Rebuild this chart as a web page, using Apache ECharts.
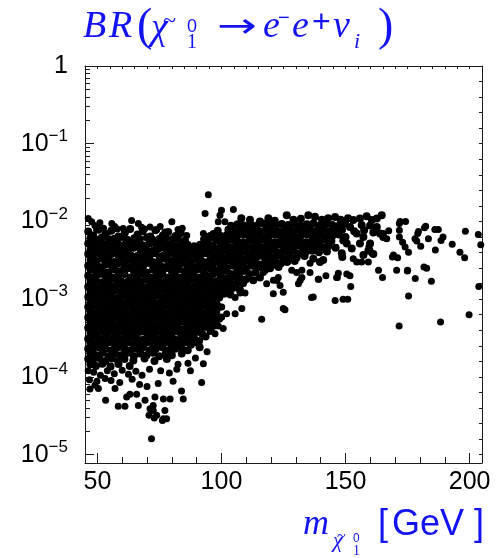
<!DOCTYPE html>
<html><head><meta charset="utf-8">
<script src="https://cdn.jsdelivr.net/npm/echarts@6/dist/echarts.min.js"></script>
<style>html,body{margin:0;padding:0;background:#fff}#c{width:497px;height:558px}</style>
</head><body><div id="c"></div>
<script>
// ---------- tick labels ----------
const xTickLabels = [50, 100, 150, 200];
const yTickLabels = [1e-5, 1e-4, 1e-3, 1e-2, 1e-1, 1];
const yMinorMultipliers = [2, 3, 4, 5, 6, 7, 8, 9];

// ---------- data: [neutralino mass (GeV), BR] ----------
const blobFringeTop = [[46.3,1.09e-2],[47.7,9.9e-3],[49.0,8.9e-3],[49.7,7.8e-3],[52.5,8.2e-3],[55.8,9.4e-3],[58.0,8.0e-3],[60.4,8.1e-3],[63.8,1.03e-2],[66.5,9.4e-3],[69.0,8.0e-3],[71.2,8.5e-3],[73.9,7.8e-3],[77.2,7.3e-3],[80.0,9.9e-3],[82.5,7.9e-3],[86.0,6.6e-3],[92.7,7.0e-3],[93.4,1.27e-2],[94.7,2.2e-2],[95.4,6.6e-3],[98.7,9.9e-3],[99.4,1.2e-2],[100.0,1.39e-2],[101.4,9.9e-3],[104.8,1.42e-2],[51.0,9.6e-3],[57.0,8.6e-3],[67.8,8.4e-3],[75.3,8.6e-3],[84.2,8.2e-3]];

const blobUpper = [
[46.3,7.4e-3],[48.3,6.6e-3],[50.5,7.8e-3],[53.4,6.9e-3],[55.6,7.6e-3],[58.5,6.4e-3],[61.1,7.2e-3],[63.2,8.0e-3],[66.2,6.8e-3],[68.3,7.5e-3],[71.3,6.4e-3],[73.4,7.7e-3],[76.4,6.6e-3],[78.5,7.3e-3],[81.5,6.5e-3],[83.6,7.1e-3],[93.8,6.3e-3],[96.8,6.9e-3],
[47.2,6.1e-3],[49.6,5.8e-3],[51.8,6.2e-3],[54.7,5.9e-3],[56.9,6.0e-3],[59.8,6.3e-3],[62.0,5.8e-3],[64.9,6.1e-3],[67.1,5.9e-3],[70.0,6.2e-3],[72.2,5.8e-3],[75.1,6.0e-3],[77.3,6.2e-3],[80.2,5.9e-3],[82.4,6.1e-3],[85.3,5.7e-3],[93.0,5.9e-3],[95.1,6.1e-3],[97.9,5.8e-3],
[46.3,5.2e-3],[48.0,5.0e-3],[50.8,5.3e-3],[53.1,5.1e-3],[55.9,4.9e-3],[58.2,5.2e-3],[61.0,5.0e-3],[63.5,5.3e-3],[65.9,5.1e-3],[68.6,4.9e-3],[71.0,5.2e-3],[73.7,5.0e-3],[76.1,5.3e-3],[78.8,5.1e-3],[81.2,4.9e-3],[83.9,5.2e-3],[86.3,5.0e-3],[89.0,4.8e-3],[91.4,5.0e-3],[94.1,5.2e-3],[96.5,4.9e-3],
[47.2,4.3e-3],[49.3,4.5e-3],[52.1,4.4e-3],[54.4,4.2e-3],[57.2,4.5e-3],[59.5,4.3e-3],[62.3,4.4e-3],[64.6,4.6e-3],[67.4,4.3e-3],[69.7,4.4e-3],[72.5,4.2e-3],[74.8,4.5e-3],[77.6,4.4e-3],[79.9,4.2e-3],[82.7,4.5e-3],[85.0,4.3e-3],[87.8,4.4e-3],[90.1,4.2e-3],[92.9,4.5e-3],[95.2,4.3e-3],[98.0,4.4e-3],
[46.3,3.8e-3],[48.2,3.7e-3],[50.6,3.9e-3],[53.3,3.6e-3],[55.7,3.8e-3],[58.4,3.7e-3],[60.8,3.9e-3],[63.3,3.7e-3],[66.1,3.6e-3],[68.4,3.8e-3],[71.2,3.7e-3],[73.5,3.9e-3],[76.3,3.6e-3],[78.6,3.8e-3],[81.4,3.7e-3],[83.7,3.9e-3],[86.5,3.6e-3],[88.8,3.8e-3],[91.6,3.7e-3],[93.9,3.9e-3],[96.7,3.6e-3],
[47.2,3.2e-3],[49.5,3.1e-3],[51.9,3.3e-3],[54.6,3.2e-3],[57.0,3.0e-3],[59.7,3.3e-3],[62.1,3.2e-3],[64.8,3.1e-3],[67.2,3.3e-3],[69.9,3.2e-3],[72.3,3.0e-3],[75.0,3.2e-3],[77.4,3.3e-3],[80.1,3.1e-3],[82.5,3.2e-3],[85.2,3.3e-3],[87.6,3.1e-3],[90.3,3.2e-3],[92.7,3.0e-3],[95.4,3.2e-3],[97.8,3.3e-3],
[46.3,2.7e-3],[48.1,2.8e-3],[50.7,2.6e-3],[53.2,2.8e-3],[55.8,2.7e-3],[58.3,2.9e-3],[60.9,2.7e-3],[63.4,2.6e-3],[66.0,2.8e-3],[68.5,2.7e-3],[71.1,2.9e-3],[73.6,2.7e-3],[76.2,2.6e-3],[78.7,2.8e-3],[81.3,2.7e-3],[83.8,2.9e-3],[86.4,2.7e-3],[88.9,2.6e-3],[91.5,2.8e-3],[94.0,2.7e-3],[96.6,2.8e-3],
[47.2,2.4e-3],[49.4,2.3e-3],[52.0,2.4e-3],[54.5,2.2e-3],[57.1,2.4e-3],[59.6,2.3e-3],[62.2,2.5e-3],[64.7,2.3e-3],[67.3,2.4e-3],[69.8,2.2e-3],[72.4,2.4e-3],[74.9,2.3e-3],[77.5,2.5e-3],[80.0,2.3e-3],[82.6,2.4e-3],[85.1,2.3e-3],[87.7,2.2e-3],[90.2,2.4e-3],[92.8,2.3e-3],[95.3,2.5e-3],[97.9,2.3e-3],
[46.3,2.0e-3],[48.1,1.9e-3],[50.7,2.1e-3],[53.2,2.0e-3],[55.8,1.9e-3],[58.3,2.0e-3],[60.9,2.1e-3],[63.4,1.9e-3],[66.0,2.0e-3],[68.5,2.1e-3],[71.1,1.9e-3],[73.6,2.0e-3],[76.2,2.1e-3],[78.7,1.9e-3],[81.3,2.0e-3],[83.8,1.9e-3],[86.4,2.1e-3],[88.9,2.0e-3],[91.5,1.9e-3],[94.0,2.0e-3],[96.6,2.1e-3]
];

const blobMiddle = [
[47.2,1.7e-3],[49.4,1.75e-3],[52.0,1.65e-3],[54.5,1.72e-3],[57.1,1.8e-3],[59.6,1.7e-3],[62.2,1.68e-3],[64.7,1.75e-3],[67.3,1.7e-3],[69.8,1.78e-3],[72.4,1.66e-3],[74.9,1.72e-3],[77.5,1.7e-3],[80.0,1.76e-3],[82.6,1.68e-3],[85.1,1.72e-3],[87.7,1.8e-3],[90.2,1.7e-3],[92.8,1.65e-3],[95.3,1.74e-3],[97.9,1.7e-3],[100.4,1.68e-3],
[46.3,1.45e-3],[48.1,1.5e-3],[50.7,1.42e-3],[53.2,1.48e-3],[55.8,1.46e-3],[58.3,1.52e-3],[60.9,1.44e-3],[63.4,1.47e-3],[66.0,1.5e-3],[68.5,1.43e-3],[71.1,1.48e-3],[73.6,1.46e-3],[76.2,1.51e-3],[78.7,1.45e-3],[81.3,1.47e-3],[83.8,1.42e-3],[86.4,1.49e-3],[88.9,1.46e-3],[91.5,1.5e-3],[94.0,1.44e-3],[96.6,1.47e-3],[99.1,1.45e-3],
[47.2,1.25e-3],[49.4,1.28e-3],[52.0,1.22e-3],[54.5,1.27e-3],[57.1,1.3e-3],[59.6,1.24e-3],[62.2,1.26e-3],[64.7,1.29e-3],[67.3,1.23e-3],[69.8,1.27e-3],[72.4,1.25e-3],[74.9,1.3e-3],[77.5,1.24e-3],[80.0,1.26e-3],[82.6,1.28e-3],[85.1,1.22e-3],[87.7,1.27e-3],[90.2,1.25e-3],[92.8,1.29e-3],[95.3,1.24e-3],[97.9,1.26e-3],[100.4,1.23e-3],
[46.3,1.07e-3],[48.1,1.1e-3],[50.7,1.05e-3],[53.2,1.09e-3],[55.8,1.08e-3],[58.3,1.04e-3],[60.9,1.1e-3],[63.4,1.07e-3],[66.0,1.09e-3],[68.5,1.05e-3],[71.1,1.08e-3],[73.6,1.11e-3],[76.2,1.06e-3],[78.7,1.08e-3],[81.3,1.1e-3],[83.8,1.05e-3],[86.4,1.07e-3],[88.9,1.09e-3],[91.5,1.06e-3],[94.0,1.08e-3],[96.6,1.1e-3],[99.1,1.05e-3],
[47.2,9.2e-4],[49.4,9.0e-4],[52.0,9.4e-4],[54.5,9.1e-4],[57.1,9.3e-4],[59.6,8.9e-4],[62.2,9.2e-4],[64.7,9.4e-4],[67.3,9.0e-4],[69.8,9.2e-4],[72.4,9.3e-4],[74.9,8.9e-4],[77.5,9.1e-4],[80.0,9.4e-4],[82.6,9.0e-4],[85.1,9.2e-4],[87.7,9.3e-4],[90.2,9.0e-4],[92.8,9.2e-4],[95.3,9.4e-4],[97.9,9.1e-4],
[46.3,7.9e-4],[48.1,8.1e-4],[50.7,7.7e-4],[53.2,7.9e-4],[55.8,8.0e-4],[58.3,7.8e-4],[60.9,7.9e-4],[63.4,8.1e-4],[66.0,7.7e-4],[68.5,7.9e-4],[71.1,8.0e-4],[73.6,7.8e-4],[76.2,7.9e-4],[78.7,8.1e-4],[81.3,7.7e-4],[83.8,7.9e-4],[86.4,8.0e-4],[88.9,7.8e-4],[91.5,7.9e-4],[94.0,8.1e-4],[96.6,7.8e-4],[99.0,7.9e-4],
[47.2,6.8e-4],[49.4,6.6e-4],[52.0,6.9e-4],[54.5,6.7e-4],[57.1,6.8e-4],[59.6,7.0e-4],[62.2,6.6e-4],[64.7,6.8e-4],[67.3,6.9e-4],[69.8,6.7e-4],[72.4,6.8e-4],[74.9,7.0e-4],[77.5,6.6e-4],[80.0,6.8e-4],[82.6,6.9e-4],[85.1,6.7e-4],[87.7,6.8e-4],[90.2,7.0e-4],[92.8,6.6e-4],[95.3,6.8e-4],[97.9,6.9e-4],
[46.3,5.8e-4],[48.1,5.7e-4],[50.7,5.9e-4],[53.2,5.8e-4],[55.8,5.6e-4],[58.3,5.9e-4],[60.9,5.8e-4],[63.4,5.7e-4],[66.0,6.0e-4],[68.5,5.8e-4],[71.1,5.7e-4],[73.6,5.9e-4],[76.2,5.8e-4],[78.7,5.6e-4],[81.3,5.9e-4],[83.8,5.8e-4],[86.4,5.7e-4],[88.9,5.9e-4],[91.5,5.8e-4],[94.0,5.7e-4],[96.6,5.9e-4],[99.1,5.6e-4],
[47.2,5.0e-4],[49.4,4.9e-4],[52.0,5.1e-4],[54.5,5.0e-4],[57.1,4.8e-4],[59.6,5.1e-4],[62.2,5.0e-4],[64.7,4.9e-4],[67.3,5.1e-4],[69.8,5.0e-4],[72.4,4.8e-4],[74.9,5.0e-4],[77.5,5.1e-4],[80.0,4.9e-4],[82.6,5.0e-4],[85.1,5.1e-4],[87.7,4.9e-4],[90.2,5.0e-4],[92.8,4.8e-4],[95.3,5.0e-4],[97.4,5.3e-4]
];

const blobLower = [
[46.3,4.3e-4],[48.1,4.2e-4],[50.7,4.4e-4],[53.2,4.3e-4],[55.8,4.2e-4],[58.3,4.4e-4],[60.9,4.3e-4],[63.4,4.1e-4],[66.0,4.3e-4],[68.5,4.4e-4],[71.1,4.2e-4],[73.6,4.3e-4],[76.2,4.4e-4],[78.7,4.2e-4],[81.3,4.3e-4],[83.8,4.1e-4],[86.4,4.3e-4],[88.9,4.4e-4],[91.5,4.2e-4],[94.0,4.4e-4],[97.0,4.6e-4],
[47.2,3.7e-4],[49.4,3.6e-4],[52.0,3.8e-4],[54.5,3.7e-4],[57.1,3.6e-4],[59.6,3.8e-4],[62.2,3.7e-4],[64.7,3.6e-4],[67.3,3.8e-4],[69.8,3.7e-4],[72.4,3.6e-4],[74.9,3.8e-4],[77.5,3.7e-4],[80.0,3.6e-4],[82.6,3.8e-4],[85.1,3.7e-4],[87.7,3.6e-4],[90.2,3.8e-4],[92.2,3.6e-4],[95.6,3.9e-4],
[46.3,3.1e-4],[48.1,3.2e-4],[50.7,3.1e-4],[53.2,3.2e-4],[55.8,3.0e-4],[58.3,3.2e-4],[60.9,3.1e-4],[63.4,3.2e-4],[66.0,3.1e-4],[68.5,3.0e-4],[71.1,3.2e-4],[73.6,3.1e-4],[76.2,3.2e-4],[78.7,3.1e-4],[81.3,3.0e-4],[83.8,3.2e-4],[86.4,3.1e-4],[88.9,3.2e-4],[91.0,2.9e-4],[93.6,3.3e-4],
[47.2,2.7e-4],[49.4,2.6e-4],[52.0,2.7e-4],[54.5,2.8e-4],[57.1,2.6e-4],[59.6,2.7e-4],[62.2,2.8e-4],[64.7,2.6e-4],[67.3,2.7e-4],[69.8,2.8e-4],[72.4,2.6e-4],[74.9,2.7e-4],[77.5,2.8e-4],[80.0,2.6e-4],[82.6,2.7e-4],[85.1,2.8e-4],[87.7,2.6e-4],[89.6,2.8e-4],
[46.3,2.3e-4],[48.1,2.2e-4],[50.7,2.4e-4],[53.2,2.3e-4],[55.8,2.2e-4],[58.3,2.4e-4],[60.9,2.3e-4],[63.4,2.2e-4],[66.0,2.3e-4],[68.5,2.4e-4],[71.1,2.2e-4],[73.6,2.3e-4],[76.2,2.4e-4],[78.7,2.2e-4],[81.3,2.3e-4],[83.8,2.4e-4],[86.4,2.2e-4],[91.2,2.4e-4],
[47.2,2.0e-4],[49.4,1.9e-4],[52.0,2.05e-4],[54.5,1.85e-4],[57.1,2.0e-4],[59.6,1.9e-4],[62.2,2.05e-4],[64.7,1.85e-4],[67.3,2.0e-4],[69.8,1.9e-4],[72.4,2.05e-4],[74.9,1.85e-4],[77.5,2.0e-4],[80.0,1.9e-4],[84.0,2.0e-4],
[46.3,1.7e-4],[48.1,1.62e-4],[50.7,1.75e-4],[53.2,1.6e-4],[55.8,1.72e-4],[58.3,1.6e-4],[60.9,1.7e-4],[64.5,1.62e-4],[69.0,1.72e-4],[73.0,1.6e-4],[78.0,1.7e-4],
[47.2,1.45e-4],[49.4,1.38e-4],[52.0,1.48e-4],[55.3,1.36e-4],[58.5,1.47e-4],[63.0,1.38e-4]
];

const blobFringeBottom = [
[46.3,1.2e-4],[48.5,1.15e-4],[51.2,1.05e-4],[54.0,1.2e-4],[56.8,1.1e-4],[60.0,1.22e-4],[62.5,1.08e-4],[65.5,1.18e-4],[68.0,1.05e-4],[71.0,1.25e-4],[75.5,1.2e-4],[79.0,1.12e-4],[82.0,1.25e-4],[86.5,1.5e-4],[89.5,1.75e-4],
[46.8,9.2e-5],[49.8,8.8e-5],[55.5,9.0e-5],[59.0,8.5e-5],[64.0,9.3e-5],[67.0,8.0e-5],[70.0,7.5e-5],[74.5,8.2e-5],[80.5,8.8e-5],
[47.0,7.0e-5],[49.0,7.8e-5],[50.4,7.1e-5],[53.1,9.5e-5],[53.3,5.0e-5],[57.1,7.1e-5],[58.4,4.2e-5],[61.1,4.2e-5],[61.8,5.5e-5],[63.1,6.0e-5],[65.8,6.0e-5],[66.5,4.3e-5],[69.2,5.0e-5],[71.2,3.9e-5],[72.5,4.3e-5],[73.2,5.5e-5],[73.9,3.2e-5],[72.5,3.7e-5],[76.6,5.2e-5],[76.6,2.9e-5],[77.9,2.9e-5],[77.2,3.7e-5],[79.3,5.2e-5],[83.9,6.6e-5],[84.6,5.2e-5],[71.8,1.6e-5],[92.0,8.5e-5],[92.7,1.48e-4],[70.8,3.2e-5],[72.9,2.95e-5],[76.2,2.75e-5],[87.5,1.2e-4],[82.5,1.45e-4],[94.2,2.1e-4]
];

const bandUpper = [
[108.0,1.1e-2],[111.5,1.05e-2],[115.5,1.0e-2],[118.9,1.1e-2],[121.5,1.02e-2],[126.3,1.2e-2],[129.0,1.05e-2],[132.0,1.08e-2],[135.0,1.2e-2],[137.7,1.15e-2],[140.5,1.05e-2],[143.0,1.1e-2],[145.8,1.14e-2],[148.0,1.05e-2],[151.0,1.1e-2],[153.1,1.04e-2],[155.8,1.09e-2],[158.5,1.17e-2],[160.6,1.04e-2],[162.6,1.09e-2],[164.6,1.2e-2],
[103.9,8.8e-3],[106.5,9.2e-3],[109.0,8.9e-3],[111.6,9.3e-3],[114.1,8.8e-3],[116.7,9.4e-3],[119.2,9.0e-3],[121.8,8.7e-3],[124.3,9.3e-3],[126.9,9.0e-3],[129.4,9.4e-3],[132.0,8.8e-3],[134.5,9.2e-3],[137.1,9.5e-3],[139.6,8.9e-3],[142.2,9.3e-3],[144.7,9.0e-3],[147.3,8.8e-3],[149.8,9.4e-3],[151.8,8.5e-3],[156.5,9.0e-3],[159.9,8.9e-3],[162.6,8.5e-3],
[98.5,7.6e-3],[102.8,7.8e-3],[105.2,7.5e-3],[107.8,7.9e-3],[110.3,7.6e-3],[112.9,7.8e-3],[115.4,7.5e-3],[118.0,7.9e-3],[120.5,7.7e-3],[123.1,7.4e-3],[125.6,7.8e-3],[128.2,7.6e-3],[130.7,7.9e-3],[133.3,7.5e-3],[135.8,7.8e-3],[138.4,7.6e-3],[140.9,7.9e-3],[143.5,7.5e-3],[146.0,7.7e-3],[148.6,7.8e-3],[153.5,7.5e-3],[157.5,7.7e-3],[161.2,7.2e-3],[163.9,7.0e-3],
[99.7,6.5e-3],[102.2,6.7e-3],[104.0,6.4e-3],[106.5,6.6e-3],[109.1,6.8e-3],[111.6,6.5e-3],[114.2,6.7e-3],[116.7,6.4e-3],[119.3,6.6e-3],[121.8,6.8e-3],[124.4,6.5e-3],[126.9,6.7e-3],[129.5,6.4e-3],[132.0,6.6e-3],[134.6,6.8e-3],[137.1,6.5e-3],[139.7,6.7e-3],[142.2,6.4e-3],[144.8,6.6e-3],[147.3,6.8e-3],[150.0,6.3e-3],[154.5,7.0e-3],[157.2,6.3e-3],[165.2,6.3e-3],
[98.5,5.7e-3],[101.0,5.5e-3],[103.5,5.8e-3],[106.1,5.6e-3],[108.6,5.4e-3],[111.2,5.7e-3],[113.7,5.5e-3],[116.3,5.8e-3],[118.8,5.6e-3],[121.4,5.4e-3],[123.9,5.7e-3],[126.5,5.5e-3],[129.0,5.8e-3],[131.6,5.6e-3],[134.1,5.4e-3],[136.7,5.7e-3],[139.2,5.5e-3],[141.8,5.8e-3],[144.3,5.6e-3],[149.1,5.7e-3],[155.8,5.2e-3],[159.9,5.2e-3],
[99.7,4.8e-3],[102.2,4.9e-3],[104.8,4.7e-3],[107.3,4.9e-3],[109.9,4.8e-3],[112.4,4.6e-3],[115.0,4.9e-3],[117.5,4.7e-3],[120.1,4.8e-3],[122.6,5.0e-3],[125.2,4.7e-3],[127.7,4.8e-3],[130.3,4.9e-3],[132.8,4.6e-3],[135.4,4.8e-3],[137.9,4.9e-3],[140.5,4.7e-3],[143.0,4.8e-3],[146.0,4.6e-3],[150.5,5.2e-3],[152.5,4.5e-3],
[98.5,4.1e-3],[101.0,4.2e-3],[103.6,4.0e-3],[106.1,4.2e-3],[108.7,4.1e-3],[111.2,3.9e-3],[113.8,4.2e-3],[116.3,4.0e-3],[118.9,4.1e-3],[121.4,4.3e-3],[124.0,4.0e-3],[126.5,4.1e-3],[129.1,4.2e-3],[131.6,3.9e-3],[134.2,4.1e-3],[136.7,4.2e-3],[139.3,4.0e-3],[142.5,4.1e-3],[148.5,3.9e-3],[159.2,4.2e-3],
[99.7,3.5e-3],[102.2,3.4e-3],[104.8,3.6e-3],[107.3,3.5e-3],[109.9,3.3e-3],[112.4,3.5e-3],[115.0,3.6e-3],[117.5,3.4e-3],[120.1,3.5e-3],[122.6,3.6e-3],[125.2,3.3e-3],[127.7,3.5e-3],[130.3,3.4e-3],[133.5,3.6e-3],[137.0,3.3e-3],[148.7,3.5e-3],[157.2,3.7e-3],[161.2,3.8e-3]
];

const bandLower = [
[98.5,3.0e-3],[101.0,2.9e-3],[103.6,3.1e-3],[106.1,3.0e-3],[108.7,2.9e-3],[111.2,3.1e-3],[113.8,3.0e-3],[116.3,2.8e-3],[118.9,3.0e-3],[121.4,3.1e-3],[124.0,2.9e-3],[126.5,3.0e-3],[129.5,3.1e-3],[139.7,3.0e-3],[141.0,3.2e-3],
[99.7,2.6e-3],[102.2,2.5e-3],[104.8,2.7e-3],[107.3,2.6e-3],[109.9,2.5e-3],[112.4,2.7e-3],[115.0,2.6e-3],[117.5,2.5e-3],[120.1,2.7e-3],[123.0,2.6e-3],
[98.5,2.2e-3],[101.0,2.3e-3],[103.6,2.1e-3],[106.1,2.2e-3],[108.7,2.3e-3],[111.2,2.1e-3],[113.8,2.2e-3],[117.5,2.35e-3],[119.6,2.5e-3],
[99.7,1.9e-3],[102.2,1.85e-3],[104.8,1.95e-3],[107.3,1.9e-3],[109.9,1.8e-3],[112.8,1.75e-3],[115.5,1.9e-3],
[98.5,1.6e-3],[101.0,1.55e-3],[103.6,1.62e-3],[106.1,1.58e-3],[108.7,1.6e-3],
[99.7,1.37e-3],[102.2,1.35e-3],[104.8,1.4e-3],[107.5,1.3e-3],
[101.0,1.17e-3],[103.6,1.15e-3]
];

const bandSparse = [
[135.7,2.9e-3],[154.5,3.0e-3],[128.3,2.35e-3],[130.3,2.2e-3],[132.4,2.35e-3],[135.7,2.2e-3],[116.9,2.2e-3],[122.3,1.74e-3],[122.9,1.9e-3],[131.0,1.58e-3],[131.7,1.74e-3],[132.4,1.9e-3],[139.0,1.8e-3],
[118.2,1.58e-3],[120.9,1.75e-3],[123.6,1.5e-3],[105.5,1.05e-3],[107.5,1.2e-3],[109.5,1.2e-3],[120.9,1.17e-3],[124.9,1.23e-3],
[98.7,4.5e-4],[97.4,3.6e-4],[100.7,4.2e-4],[100.1,5.9e-4],[102.1,6.5e-4],[100.1,7.9e-4],[105.5,6.5e-4],[108.2,7.6e-4],[116.2,5.5e-4],[125.6,7.3e-4],[124.9,7.6e-4],[136.3,1.05e-3],[137.0,1.07e-3],[145.8,9.6e-4],[149.0,1.0e-3],[150.9,1.0e-3],[152.1,1.46e-3],[146.4,1.9e-3],[147.1,2.15e-3],[150.5,2.1e-3],[151.8,2.0e-3],[142.1,2.0e-3],[139.2,1.8e-3],[146.7,1.9e-3],[153.1,3.3e-3],[156.5,3.0e-3],[159.2,3.0e-3],[160.7,3.9e-3],[159.8,4.3e-3],[159.4,4.7e-3]
];

const tailPoints = [
[163.3,2.35e-3],[164.9,1.9e-3],[167.4,7.6e-3],[165.2,7.0e-3],[166.6,6.0e-3],[168.9,3.5e-3],[169.3,3.7e-3],[171.0,3.4e-3],[170.6,2.35e-3],[175.0,2.35e-3],[171.6,4.5e-4],[175.4,1.1e-3],[174.9,2.3e-3],[171.7,9.4e-3],[174.2,1.0e-2],[171.7,7.7e-3],[171.7,6.3e-3],[173.0,5.4e-3],[174.0,4.7e-3],[175.4,4.0e-3],[178.1,1.84e-3],[178.0,6.0e-3],[178.7,5.6e-3],[179.4,7.4e-3],[179.1,7.0e-3],[180.3,4.8e-3],[181.6,2.6e-3],[182.7,2.5e-3],[181.8,8.3e-3],[182.3,8.7e-3],[183.4,6.0e-3],[184.6,1.7e-3],[186.0,7.9e-3],[187.4,7.9e-3],[186.2,4.3e-3],[188.3,5.1e-4],[188.5,5.7e-3],[189.3,6.3e-3],[193.0,5.1e-3],[196.1,4.0e-3],[198.0,3.4e-3],[198.3,7.5e-3],[199.8,6.3e-4],[203.5,6.8e-3],[203.7,1.46e-3],[204.5,5.0e-3],[172.0,1.0e-2]
];

const densePoints = [].concat(blobUpper, blobMiddle, blobLower, bandUpper, bandLower);
const sparsePoints = [].concat(blobFringeTop, blobFringeBottom, bandSparse, tailPoints);

// ---------- layout ----------
const X_MIN = 45, X_MAX = 205, Y_MIN = 7.8e-6, Y_MAX = 1;
const BLUE = '#1212f2';
const FRAME = '#1a1a1a';

const xMinorTicks = [];
for (let v = 50; v <= 200; v += 10) xMinorTicks.push(v);
const xTopTicks = [];
for (let v = 50; v <= 200; v += 5) xTopTicks.push(v);
const yMinorTicks = [];
yTickLabels.slice(0, -1).forEach(d => yMinorMultipliers.forEach(m => yMinorTicks.push(m * d)));
const yRightTicks = [];
for (let k = 1; k <= 25; k++) yRightTicks.push(Math.pow(10, -0.2 * k));

function xAx(pos, ticks, len, showLine, labels) {
  return {
    type: 'value', position: pos, min: X_MIN, max: X_MAX, gridIndex: 0,
    axisLine: { show: showLine, onZero: false, lineStyle: { color: FRAME, width: 1 } },
    axisTick: { show: true, inside: true, length: len, customValues: ticks, lineStyle: { color: FRAME, width: 1 } },
    axisLabel: labels ? { show: true, customValues: labels, margin: 7, color: '#000', fontSize: 25, fontFamily: 'Liberation Sans' } : { show: false },
    splitLine: { show: false }
  };
}
function yAx(pos, ticks, len, showLine, labels) {
  return {
    type: 'log', logBase: 10, position: pos, min: Y_MIN, max: Y_MAX, gridIndex: 0,
    axisLine: { show: showLine, onZero: false, lineStyle: { color: FRAME, width: 1 } },
    axisTick: { show: true, inside: true, length: len, customValues: ticks, lineStyle: { color: FRAME, width: 1 } },
    axisLabel: labels ? {
      show: true, customValues: labels, margin: 17, color: '#000',
      formatter: function (v) {
        const e = Math.round(Math.log10(v));
        if (e === 0) return '{b|1}';
        return '{b|10}{s|\u2212' + (-e) + '}';
      },
      rich: {
        b: { fontSize: 25, fontFamily: 'Liberation Sans', color: '#000', lineHeight: 32 },
        s: { fontSize: 17, fontFamily: 'Liberation Sans', color: '#000', verticalAlign: 'top', lineHeight: 17 }
      }
    } : { show: false },
    splitLine: { show: false }
  };
}

function txt(s, x, base, fs, fam, italic, extra) {
  const e = {
    type: 'text', x: x, y: base - 0.34 * fs, silent: true,
    style: { text: s, font: (italic ? 'italic ' : '') + fs + 'px "' + fam + '"', fill: BLUE, align: 'left', verticalAlign: 'middle' }
  };
  return Object.assign(e, extra || {});
}

const SERIF = 'Liberation Serif', SANS = 'Liberation Sans';
const graphics = [
  // title  BR(χ̃⁰₁ → e⁻e⁺νᵢ)
  txt('B', 83, 40, 38, SERIF, true),
  txt('R', 109, 40, 38, SERIF, true),
  txt('(', 137, 44, 46, SERIF, false),
  txt('\u03C7', 151, 42, 38, SERIF, true),
  txt('~', 163, 30, 24, SERIF, false),
  txt('0', 187, 33, 18, SANS, false),
  txt('1', 187, 50, 20, SERIF, false),
  txt('\u2192', 217, 40, 34, 'DejaVu Sans', false, { scaleX: 1.4 }),
  txt('e', 263, 40, 38, SERIF, true),
  txt('\u2212', 278, 25, 20, SANS, false),
  txt('e', 292, 40, 38, SERIF, true),
  txt('+', 312, 34, 32, SANS, false),
  txt('\u03BD', 333, 40, 38, SERIF, true),
  txt('i', 354, 50, 22, SERIF, true),
  txt(')', 378, 44, 46, SERIF, false),
  // x axis name  m_{χ̃⁰₁} [GeV]
  txt('m', 303, 537, 36, SERIF, true),
  txt('\u03C7', 333, 549, 22, SERIF, true),
  txt('~', 337, 542, 16, SERIF, false),
  txt('0', 353, 543, 12, SANS, false),
  txt('1', 353, 556, 14, SERIF, false),
  txt('[', 378, 537, 36, SANS, false),
  txt('GeV', 392, 537, 36, SANS, false),
  txt(']', 474, 537, 36, SANS, false)
];

const chart = echarts.init(document.getElementById('c'), null, { renderer: 'canvas' });
chart.setOption({
  animation: false,
  backgroundColor: '#fff',
  grid: { left: 85, right: 15, top: 66, bottom: 95, containLabel: false, outerBoundsMode: 'none' },
  xAxis: [
    xAx('bottom', xTickLabels, 10, true, xTickLabels),
    xAx('bottom', xMinorTicks, 6, false, null),
    xAx('top', xTopTicks, 3, true, null)
  ],
  yAxis: [
    yAx('left', yTickLabels, 9, true, yTickLabels),
    yAx('left', yMinorTicks, 5, false, null),
    yAx('right', yRightTicks, 3, true, null)
  ],
  series: [{
    type: 'scatter', xAxisIndex: 0, yAxisIndex: 0, data: densePoints,
    symbol: 'circle', symbolSize: 8, itemStyle: { color: '#000', opacity: 1 },
    silent: true, clip: true
  }, {
    type: 'scatter', xAxisIndex: 0, yAxisIndex: 0, data: sparsePoints,
    symbol: 'circle', symbolSize: 7, itemStyle: { color: '#000', opacity: 1 },
    silent: true, clip: true
  }],
  graphic: graphics
});
</script>
</body></html>
